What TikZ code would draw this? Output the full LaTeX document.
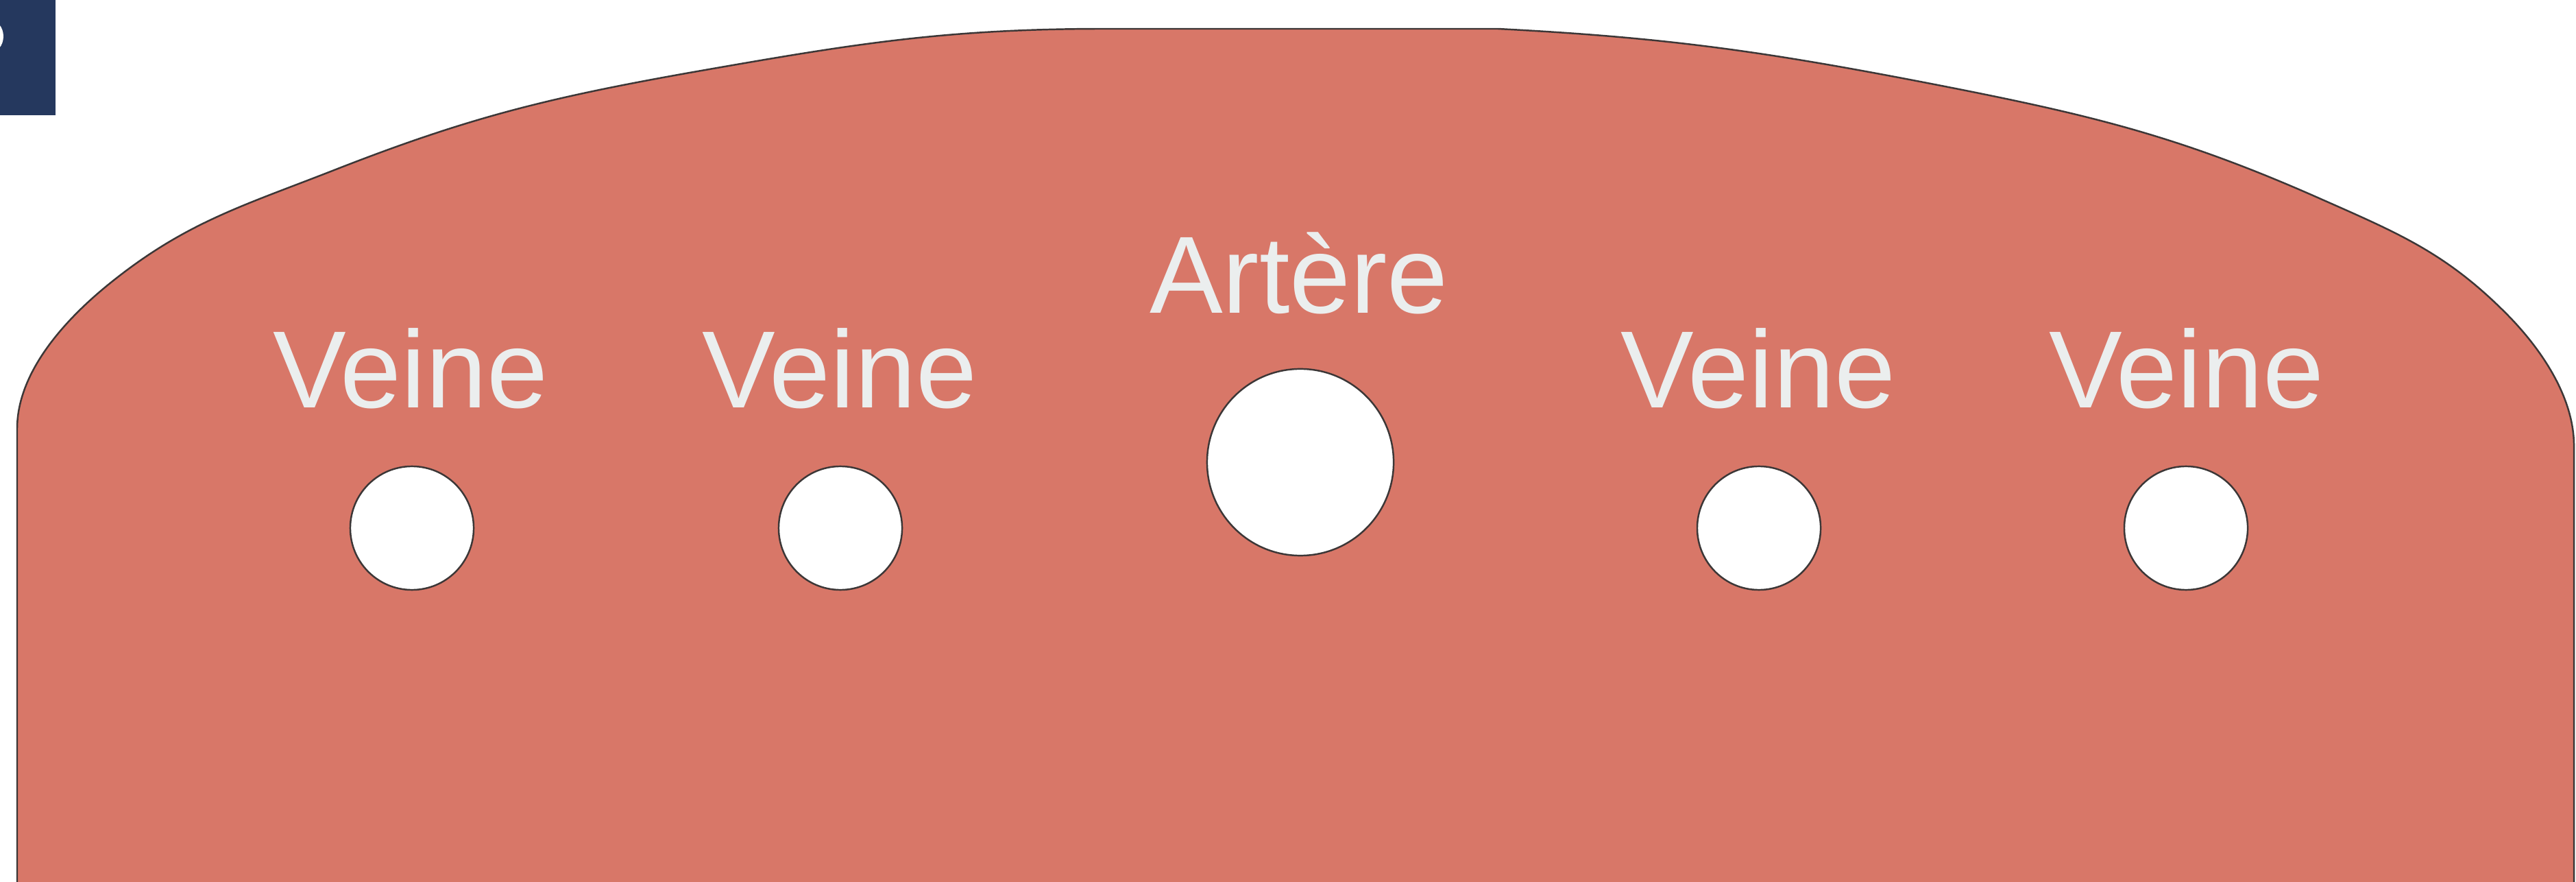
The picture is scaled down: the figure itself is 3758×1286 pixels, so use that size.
\documentclass[tikz,border=0pt]{standalone}
\usepackage{fontspec}
\setmainfont{Liberation Sans}
\definecolor{tissue}{RGB}{216,119,104}
\definecolor{edge}{RGB}{60,55,55}
\definecolor{labelc}{RGB}{235,238,238}
\definecolor{navy}{RGB}{37,56,94}
\tikzset{
  vessel/.style={circle, draw=edge, line width=0.7pt, fill=white, inner sep=0pt},
  vein/.style={vessel, minimum size=1.8cm},
  artery/.style={vessel, minimum size=2.72cm},
  vlabel/.style={anchor=base, text=labelc, inner sep=0pt, font=\fontsize{45.5}{54}\selectfont}
}
\begin{document}
\begin{tikzpicture}[x=0.01cm, y=-0.01cm]
\useasboundingbox (0,0) rectangle (3758,1286);
\clip (0,0) rectangle (3758,1286);
\fill[white] (0,0) rectangle (3758,1286);
% corner tab
\fill[navy] (0,0) rectangle (81,168);
\fill[white] (-15,53) ellipse [x radius=20, y radius=24];
% tissue section
\draw[fill=tissue, draw=edge, line width=0.7pt]
  (25,1400) -- (25,625)
  .. controls (25,543) and (94,467) .. (158,415)
  .. controls (269,325) and (352,301) .. (485,249)
  .. controls (681,172) and (798,143) .. (1006,106)
  .. controls (1240,65) and (1374,42) .. (1612,42)
  -- (2185,42)
  .. controls (2437,55) and (2580,76) .. (2827,124)
  .. controls (3052,168) and (3181,199) .. (3390,292)
  .. controls (3501,341) and (3569,370) .. (3655,456)
  .. controls (3706,507) and (3755,578) .. (3755,650)
  -- (3755,1400) -- cycle;
% vessels
\node[vein] (v1) at (601,770) {};
\node[vein] (v2) at (1226,770) {};
\node[artery] (art) at (1897,674) {};
\node[vein] (v3) at (2566,770) {};
\node[vein] (v4) at (3189,770) {};
% labels
\node[vlabel] (l1) at (599,595) {Veine};
\node[vlabel] (l2) at (1225,595) {Veine};
\node[vlabel] (la) at (1895,457) {Artère};
\node[vlabel] (l3) at (2565,595) {Veine};
\node[vlabel] (l4) at (3190,595) {Veine};
\end{tikzpicture}
\end{document}
